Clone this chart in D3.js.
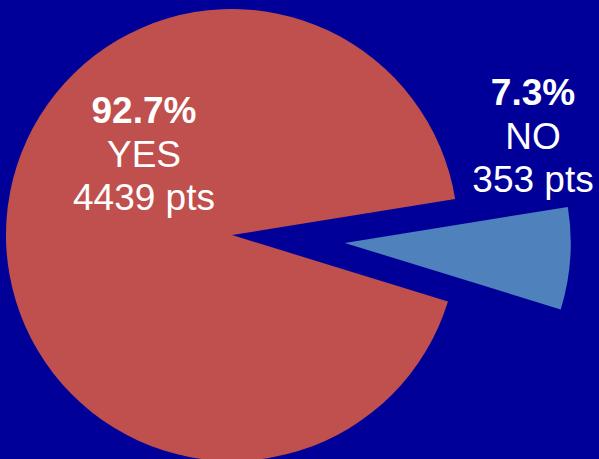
<!DOCTYPE html>
<html>
<head>
<meta charset="utf-8">
<script src="https://cdn.jsdelivr.net/npm/d3@7"></script>
<style>
  html, body { margin: 0; padding: 0; background: #000099; overflow: hidden; }
  svg { display: block; }
</style>
</head>
<body>
<svg id="chart" width="599" height="459"></svg>
<script>
// Poll answers
const categories = ["YES", "NO"];
const percents = [92.7, 7.3];
const points = [4439, 353];
const colors = ["#C0504D", "#4F81BD"];

const width = 599, height = 459;
const cx = 232, cy = 235, radius = 226;
const explode = 113;          // offset of the NO slice
const noMidDeg = 94;          // direction of the NO slice (clockwise from 12 o'clock)

const svg = d3.select("#chart");
svg.append("rect").attr("width", width).attr("height", height).attr("fill", "#000099");

const noSpan = percents[1] / d3.sum(percents) * 360;
const start = (noMidDeg + noSpan / 2 - 360) * Math.PI / 180;

const pie = d3.pie().sort(null).value(d => d.pct)
  .startAngle(start).endAngle(start + 2 * Math.PI);
const data = categories.map((c, i) => ({ cat: c, pct: percents[i], pts: points[i], color: colors[i] }));
const arcs = pie(data);
const arc = d3.arc().innerRadius(0).outerRadius(radius);

const g = svg.append("g").attr("transform", `translate(${cx},${cy})`);
g.selectAll("path").data(arcs).join("path")
  .attr("d", arc)
  .attr("fill", d => d.data.color)
  .attr("transform", d => {
    if (d.data.cat !== "NO") return null;
    const mid = (d.startAngle + d.endAngle) / 2;
    return `translate(${explode * Math.sin(mid)},${-explode * Math.cos(mid)})`;
  });

// label anchors: centre x and baseline of the first line
const labelPos = { YES: [144, 123], NO: [533, 105] };
const lineGap = 43.5;
const fmt = d3.format(".1f");

arcs.forEach(d => {
  const [lx, ly] = labelPos[d.data.cat];
  const t = svg.append("text")
    .attr("text-anchor", "middle")
    .attr("fill", "#ffffff")
    .style("font-family", "'Liberation Sans', Arial, sans-serif")
    .style("font-size", "37px");
  t.append("tspan").attr("x", lx).attr("y", ly).style("font-weight", "bold")
    .text(fmt(d.data.pct) + "%");
  t.append("tspan").attr("x", lx).attr("y", ly + lineGap).text(d.data.cat);
  t.append("tspan").attr("x", lx).attr("y", ly + 2 * lineGap).text(d.data.pts + " pts");
});
</script>
</body>
</html>
